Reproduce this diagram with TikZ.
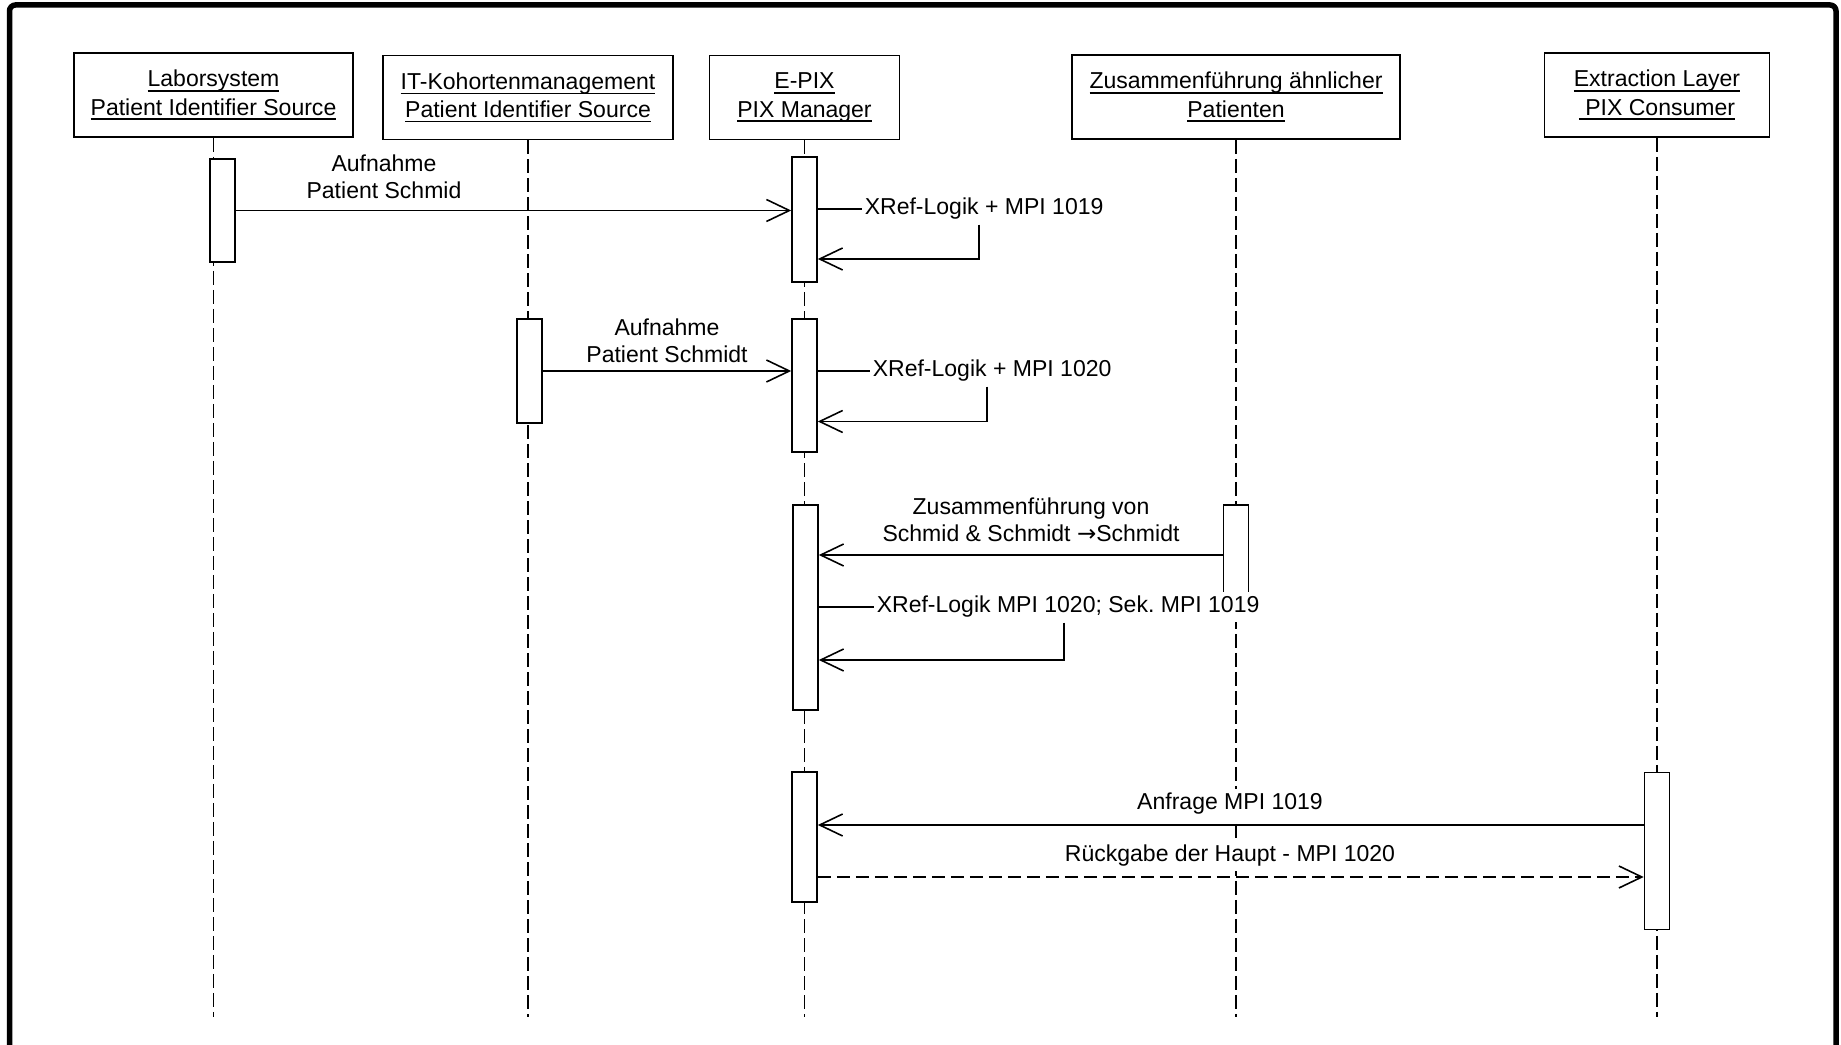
\documentclass[tikz,border=0pt]{standalone}
\usepackage{fontspec}
\setmainfont{Liberation Sans}
\newfontfamily\arrowfont{DejaVu Sans}
\usetikzlibrary{shapes.geometric, arrows.meta}
\frenchspacing

\newcommand{\ulbox}[1]{\leavevmode\setbox0\hbox{#1}\rlap{\rule[-1.3pt]{\wd0}{0.4pt}}\box0}

\tikzstyle{arrow} = [->, >={Straight Barb[length=2.3mm,width=2.2mm]}]
\tikzstyle{actor} = [rectangle, minimum height=8.4mm, text centered, align=center, draw=black, fill=white, font=\fontsize{6.55}{8}\selectfont]
\tikzstyle{actbar} = [rectangle, minimum width=2.5mm, inner sep=0pt, draw=black, fill=white]
\tikzstyle{msglabel} = [fill=white, inner xsep=0.2mm, inner ysep=0.4mm, align=center, font=\fontsize{6.55}{7.8}\selectfont]
\tikzstyle{lifeline} = [dash pattern=on 1.4mm off 0.5mm]

\begin{document}
\begin{tikzpicture}[x=0.1mm, y=-0.1mm, line width=0.45pt]

\useasboundingbox (0,0) rectangle (1841,1045);
\draw[line width=0.55mm, rounded corners=0.6mm] (9.5,1045) -- (9.5,5) -- (1836,5) -- (1836,1045);

\node (lab) [actor, minimum width=27.9mm] at (213.5,95) {\ulbox{Laborsystem}\\\ulbox{Patient Identifier Source}};
\node (it) [actor, minimum width=29mm] at (528,97.5) {\ulbox{IT-Kohortenmanagement}\\\ulbox{Patient Identifier Source}};
\node (epix) [actor, minimum width=19mm] at (804.5,97.5) {\ulbox{E-PIX}\\\ulbox{PIX Manager}};
\node (zus) [actor, minimum width=32.8mm] at (1236,97) {\ulbox{Zusammenführung ähnlicher}\\\ulbox{Patienten}};
\node (ext) [actor, minimum width=22.5mm] at (1657,95) {\ulbox{Extraction Layer}\\\ulbox{ PIX Consumer}};

\coordinate (bottom) at (0,1017);

\draw[lifeline] (lab) -- (lab |- bottom);
\draw[lifeline] (it) -- (it |- bottom);
\draw[lifeline] (epix) -- (epix |- bottom);
\draw[lifeline] (zus) -- (zus |- bottom);
\draw[lifeline] (ext) -- (ext |- bottom);

\node (labAct) [actbar, minimum height=10.3mm] at (222.5,210.5) {};
\node (epixA1) [actbar, minimum height=12.5mm] at (804.5,219.5) {};
\node (itAct) [actbar, minimum height=10.4mm] at (529.5,371) {};
\node (epixA2) [actbar, minimum height=13.3mm] at (804.5,385.5) {};
\node (epixA3) [actbar, minimum height=20.5mm] at (805.5,607.5) {};
\node (zusAct) [actbar, minimum height=10mm] at (1236,555) {};
\node (epixA4) [actbar, minimum height=13mm] at (804.5,837) {};
\node (extAct) [actbar, minimum height=15.7mm] at (1657,851) {};

% Aufnahme Schmid
\draw [arrow] (labAct.east) -- (labAct.east -| epixA1.west);
\node (aufn1) [msglabel] at (384,176.5) {Aufnahme\\Patient Schmid};
\node (xref1) [msglabel, anchor=west] at (862,209) {XRef-Logik + MPI 1019};
\draw (epixA1.east |- xref1) -- (xref1.west);
\draw [arrow] ([xshift=-0.5mm]xref1.south) |- ([yshift=-3.95mm]epixA1.east);

% Aufnahme Schmidt
\draw [arrow] (itAct.east) -- (itAct.east -| epixA2.west);
\node (aufn2) [msglabel] at (667,341) {Aufnahme\\Patient Schmidt};
\node (xref2) [msglabel, anchor=west] at (870,371) {XRef-Logik + MPI 1020};
\draw (epixA2.east |- xref2) -- (xref2.west);
\draw [arrow] ([xshift=-0.5mm]xref2.south) |- ([yshift=-3.6mm]epixA2.east);

% Zusammenfuehrung
\draw [arrow] (zusAct.west) -- (zusAct.west -| epixA3.east);
\node (merge) [msglabel] at (1031,519.5) {Zusammenführung von\\Schmid \& Schmidt {\arrowfont →}Schmidt};
\node (xref3) [msglabel, anchor=west] at (874,607) {XRef-Logik MPI 1020; Sek. MPI 1019};
\draw (epixA3.east |- xref3) -- (xref3.west);
\draw [arrow] ([xshift=-0.4mm]xref3.south) |- ([yshift=-5.25mm]epixA3.east);

% Anfrage
\draw [arrow] ([yshift=2.6mm]extAct.west) -- ([yshift=2.6mm]extAct.west -| epixA4.east);
\node (anfrage) [msglabel] at (1230,804) {Anfrage MPI 1019};
\draw [arrow, dash pattern=on 1.3mm off 0.6mm] ([yshift=-2.6mm]extAct.west -| epixA4.east) -- ([yshift=-2.6mm]extAct.west);
\node (rueck) [msglabel] at (1230,856) {Rückgabe der Haupt - MPI 1020};

\end{tikzpicture}
\end{document}
